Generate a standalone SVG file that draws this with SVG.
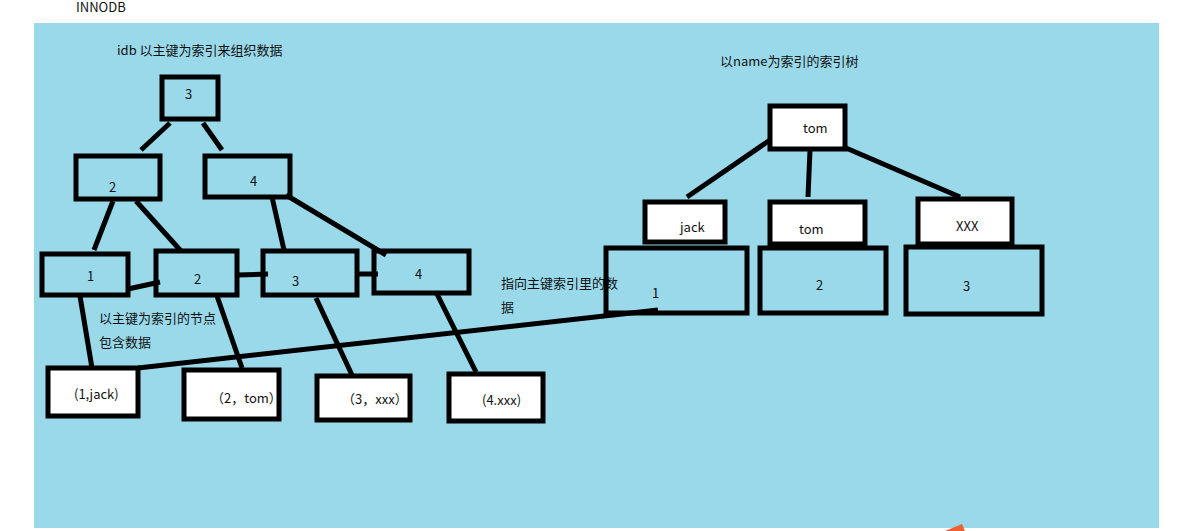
<svg xmlns="http://www.w3.org/2000/svg" width="1177" height="531" viewBox="0 0 1177 531">
<style>
text{font-family:"Noto Sans CJK SC","Liberation Sans",sans-serif;font-size:13px;fill:#111}
.b{fill:#fff;stroke:#000;stroke-width:5}
.n{fill:none;stroke:#000;stroke-width:5}
#edges line{stroke:#000;stroke-width:5}
</style>
<rect width="1177" height="531" fill="#fff"/>
<rect x="34" y="23" width="1125" height="505" fill="#99d9ea"/>
<text x="76" y="12" font-size="12">INNODB</text>
<text x="117" y="55">idb  以主键为索引来组织数据</text>
<text x="720" y="66">以name为索引的索引树</text>
<text x="501" y="288">指向主键索引里的数</text>
<text x="501" y="312">据</text>
<text x="99" y="323">以主键为索引的节点</text>
<text x="99" y="347">包含数据</text>
<g id="edges">
<line x1="141" y1="150" x2="170" y2="123"/><line x1="203" y1="123" x2="222" y2="150"/>
<line x1="113" y1="201" x2="94" y2="250"/><line x1="136" y1="201" x2="181" y2="251"/>
<line x1="272" y1="197" x2="284" y2="250"/><line x1="286" y1="195" x2="386" y2="255"/>
<line x1="128" y1="289" x2="160" y2="282"/><line x1="237" y1="275" x2="268" y2="274"/>
<line x1="357" y1="274" x2="378" y2="274"/>
<line x1="80" y1="296" x2="92" y2="368"/><line x1="217" y1="296" x2="242" y2="368"/>
<line x1="316" y1="298" x2="352" y2="375"/><line x1="437" y1="294" x2="476" y2="372"/>
<line x1="138" y1="368" x2="658" y2="310"/>
<line x1="770" y1="140" x2="687" y2="197"/><line x1="810" y1="150" x2="808" y2="197"/>
<line x1="846" y1="148" x2="960" y2="197"/>
</g>
<g id="n3"><rect class="n" x="162" y="77" width="56" height="42"/><text x="185" y="99">3</text></g>
<g id="n2"><rect class="n" x="76" y="156" width="84" height="43"/><text x="109" y="192">2</text></g>
<g id="n4"><rect class="n" x="205" y="156" width="85" height="41"/><text x="250" y="186">4</text></g>
<g id="l1"><rect class="n" x="42" y="254" width="86" height="41"/><text x="87" y="281">1</text></g>
<g id="l2"><rect class="n" x="156" y="251" width="81" height="44"/><text x="194" y="284">2</text></g>
<g id="l3"><rect class="n" x="263" y="251" width="94" height="44"/><text x="292" y="286">3</text></g>
<g id="l4"><rect class="n" x="374" y="251" width="95" height="42"/><text x="415" y="279">4</text></g>
<g id="d1"><rect class="b" x="48" y="368" width="90" height="48"/><text x="74" y="399">(1,jack)</text></g>
<g id="d2"><rect class="b" x="184" y="370" width="95" height="49"/><text x="211" y="403">（2，tom）</text></g>
<g id="d3"><rect class="b" x="317" y="376" width="93" height="44"/><text x="342" y="404">（3，xxx）</text></g>
<g id="d4"><rect class="b" x="449" y="374" width="94" height="47"/><text x="482" y="405">(4.xxx)</text></g>
<g id="rt"><rect class="b" x="770" y="106" width="75" height="43"/><text x="803" y="133">tom</text></g>
<g id="rj"><rect class="b" x="645" y="202" width="80" height="40"/><text x="680" y="232">jack</text></g>
<g id="rtom"><rect class="b" x="770" y="202" width="95" height="42"/><text x="799" y="234">tom</text></g>
<g id="rx"><rect class="b" x="918" y="199" width="94" height="45"/><text x="956" y="231">XXX</text></g>
<g id="v1"><rect class="n" x="606" y="248" width="141" height="65"/><text x="652" y="298">1</text></g>
<g id="v2"><rect class="n" x="760" y="248" width="126" height="65"/><text x="816" y="290">2</text></g>
<g id="v3"><rect class="n" x="906" y="247" width="136" height="67"/><text x="963" y="291">3</text></g>
<path d="M945 531 L962 524 L965 531 Z" fill="#f06030"/>
</svg>
